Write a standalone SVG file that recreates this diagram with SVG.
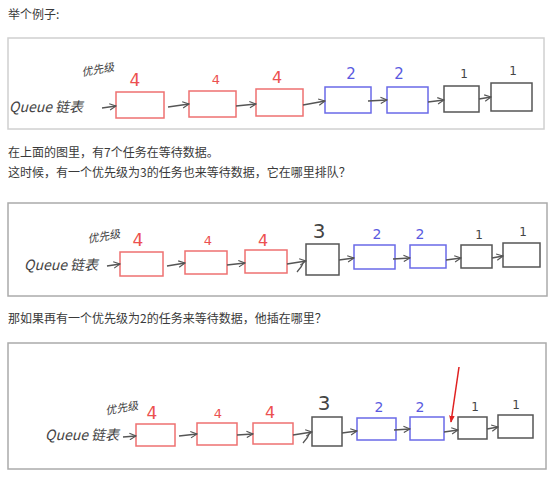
<svg xmlns="http://www.w3.org/2000/svg" width="554" height="477" viewBox="0 0 554 477">
<defs>
<marker id="ah" viewBox="0 0 10 10" refX="9" refY="5" markerWidth="8" markerHeight="8" orient="auto" markerUnits="userSpaceOnUse"><path d="M1,1 L9,5 L1,9" fill="none" stroke="#555" stroke-width="1.4"/></marker>
<marker id="ahr" viewBox="0 0 10 10" refX="9" refY="5" markerWidth="7" markerHeight="7" orient="auto" markerUnits="userSpaceOnUse"><path d="M0,1 L10,5 L0,9 Z" fill="#e02020"/></marker>
</defs>
<style>
.cap{font-family:"Noto Sans CJK SC","Noto Sans",sans-serif;font-size:12px;fill:#3a3a3a}
.frame1{fill:#fff;stroke:#d0d0d0;stroke-width:1.5}
.frame{fill:#fff;stroke:#ababab;stroke-width:1.5}
.r{fill:none;stroke:#ee7070;stroke-width:1.5}
.b{fill:none;stroke:#6a6ae8;stroke-width:1.5}
.k{fill:none;stroke:#555;stroke-width:1.5}
.num{font-family:"DejaVu Sans",sans-serif;text-anchor:middle}
.nr{fill:#ec5050}.nb{fill:#5a5ae0}.nk{fill:#444}
.hw{font-family:"Noto Sans CJK SC",sans-serif;fill:#444;font-style:italic}
.pri{font-size:11px}
.q{font-size:14px}
.c{fill:none;stroke:#555;stroke-width:1.3;marker-end:url(#ah)}
</style>
<rect width="554" height="477" fill="#fff"/>
<text class="cap" x="8" y="19">举个例子:</text>
<text class="cap" x="8" y="157">在上面的图里，有7个任务在等待数据。</text>
<text class="cap" x="8" y="177">这时候，有一个优先级为3的任务也来等待数据，它在哪里排队？</text>
<text class="cap" x="8" y="323">那如果再有一个优先级为2的任务来等待数据，他插在哪里？</text>

<rect class="frame1" x="8" y="38" width="536" height="91"/>
<rect class="frame" x="8" y="203" width="539" height="93"/>
<rect class="frame" x="8" y="343" width="538" height="126"/>

<g id="p1-labels">
<text class="hw pri" x="81" y="73" transform="rotate(-10 100 68)">优先级</text>
<text class="hw q" x="9" y="112">Queue 链表</text>
</g>
<g id="p1-n1"><rect class="r" x="116" y="92" width="48" height="26"/><text class="num nr" x="135" y="86" style="font-size:17px">4</text></g>
<g id="p1-n2"><rect class="r" x="189" y="91" width="47" height="26"/><text class="num nr" x="216" y="84" style="font-size:13px">4</text></g>
<g id="p1-n3"><rect class="r" x="256" y="89" width="47" height="27"/><text class="num nr" x="277" y="83" style="font-size:16px">4</text></g>
<g id="p1-n4"><rect class="b" x="325" y="87" width="46" height="26"/><text class="num nb" x="351" y="79" style="font-size:15px">2</text></g>
<g id="p1-n5"><rect class="b" x="387" y="87" width="41" height="26"/><text class="num nb" x="399" y="79" style="font-size:15px">2</text></g>
<g id="p1-n6"><rect class="k" x="444" y="86" width="35" height="26"/><text class="num nk" x="464" y="78" style="font-size:12px">1</text></g>
<g id="p1-n7"><rect class="k" x="491" y="83" width="41" height="28"/><text class="num nk" x="513" y="75" style="font-size:12px">1</text></g>

<g id="p2-labels">
<text class="hw pri" x="87" y="240" transform="rotate(-10 105 235)">优先级</text>
<text class="hw q" x="24" y="270">Queue 链表</text>
</g>
<g id="p2-n1"><rect class="r" x="120" y="252" width="43" height="24"/><text class="num nr" x="138" y="246" style="font-size:17px">4</text></g>
<g id="p2-n2"><rect class="r" x="185" y="251" width="42" height="23"/><text class="num nr" x="208" y="245" style="font-size:13px">4</text></g>
<g id="p2-n3"><rect class="r" x="245" y="250" width="42" height="23"/><text class="num nr" x="263" y="246" style="font-size:16px">4</text></g>
<g id="p2-n4"><rect class="k" x="306" y="244" width="33" height="31"/><text class="num nk" x="319" y="238" style="font-size:20px">3</text></g>
<g id="p2-n5"><rect class="b" x="354" y="245" width="41" height="24"/><text class="num nb" x="377" y="239" style="font-size:14px">2</text></g>
<g id="p2-n6"><rect class="b" x="410" y="245" width="36" height="23"/><text class="num nb" x="420" y="239" style="font-size:14px">2</text></g>
<g id="p2-n7"><rect class="k" x="461" y="245" width="31" height="23"/><text class="num nk" x="479" y="239" style="font-size:12px">1</text></g>
<g id="p2-n8"><rect class="k" x="503" y="243" width="37" height="24"/><text class="num nk" x="523" y="236" style="font-size:12px">1</text></g>

<g id="p3-labels">
<text class="hw pri" x="105" y="412" transform="rotate(-10 121 407)">优先级</text>
<text class="hw q" x="45" y="440">Queue 链表</text>
</g>
<g id="p3-n1"><rect class="r" x="136" y="424" width="39" height="22"/><text class="num nr" x="152" y="419" style="font-size:17px">4</text></g>
<g id="p3-n2"><rect class="r" x="197" y="423" width="40" height="22"/><text class="num nr" x="218" y="418" style="font-size:13px">4</text></g>
<g id="p3-n3"><rect class="r" x="253" y="423" width="40" height="21"/><text class="num nr" x="270" y="418" style="font-size:16px">4</text></g>
<g id="p3-n4"><rect class="k" x="312" y="417" width="30" height="29"/><text class="num nk" x="324" y="410" style="font-size:20px">3</text></g>
<g id="p3-n5"><rect class="b" x="357" y="418" width="39" height="22"/><text class="num nb" x="379" y="412" style="font-size:14px">2</text></g>
<g id="p3-n6"><rect class="b" x="410" y="417" width="34" height="23"/><text class="num nb" x="420" y="412" style="font-size:14px">2</text></g>
<g id="p3-n7"><rect class="k" x="458" y="417" width="29" height="22"/><text class="num nk" x="475" y="411" style="font-size:12px">1</text></g>
<g id="p3-n8"><rect class="k" x="498" y="415" width="35" height="23"/><text class="num nk" x="516" y="409" style="font-size:12px">1</text></g>

<g id="connectors">
<path class="c" d="M102,108 L116,106"/>
<path class="c" d="M168,107 L189,104"/>
<path class="c" d="M236,106 L256,104"/>
<path class="c" d="M303,105 L325,101"/>
<path class="c" d="M368,101 L387,100"/>
<path class="c" d="M428,102 L444,100"/>
<path class="c" d="M479,99 L491,97"/>

<path class="c" d="M107,266 L120,264"/>
<path class="c" d="M167,266 L185,263"/>
<path class="c" d="M227,265 L245,263"/>
<path class="c" d="M287,264 L306,261"/>
<path fill="none" stroke="#555" stroke-width="1.3" d="M304,261 Q302,267 297,272"/>
<path class="c" d="M339,260 L354,258"/>
<path class="c" d="M393,259 L410,258"/>
<path class="c" d="M446,260 L461,258"/>
<path class="c" d="M492,258 L503,256"/>

<path class="c" d="M123,437 L136,436"/>
<path class="c" d="M179,436 L197,434"/>
<path class="c" d="M237,435 L253,434"/>
<path class="c" d="M293,435 L312,432"/>
<path fill="none" stroke="#555" stroke-width="1.3" d="M310,432 Q308,438 303,443"/>
<path class="c" d="M342,433 L357,431"/>
<path class="c" d="M394,430 L410,429"/>
<path class="c" d="M444,432 L458,430"/>
<path class="c" d="M487,429 L498,427"/>
<path fill="none" stroke="#e02020" stroke-width="1.5" marker-end="url(#ahr)" d="M459,367 L451,422"/>
</g>
</svg>
